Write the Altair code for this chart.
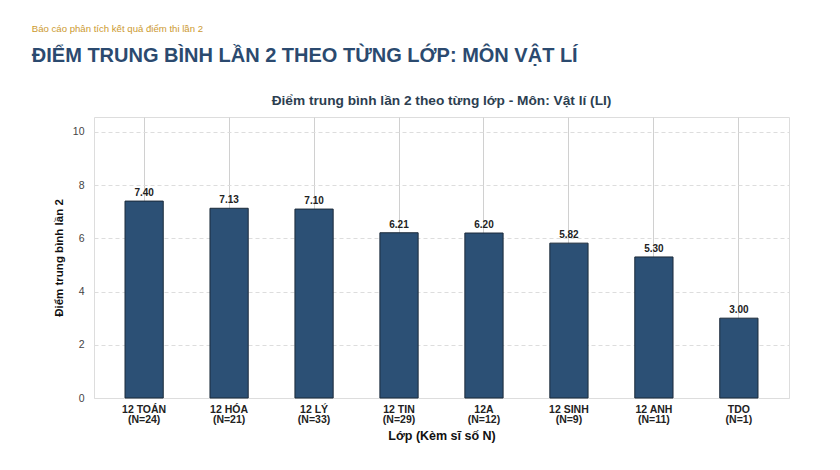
import altair as alt
import pandas as pd

classes = ["12 TOÁN", "12 HÓA", "12 LÝ", "12 TIN", "12A", "12 SINH", "12 ANH", "TDO"]
counts = [24, 21, 33, 29, 12, 9, 11, 1]
scores = [7.40, 7.13, 7.10, 6.21, 6.20, 5.82, 5.30, 3.00]
y_ticks = [0, 2, 4, 6, 8, 10]

labels = [f"{c}|(N={n})" for c, n in zip(classes, counts)]
df = pd.DataFrame({"label": labels, "score": scores})

FONT = "Liberation Sans"

x_enc = alt.X(
    "label:N",
    sort=labels,
    scale=alt.Scale(paddingInner=0.55, paddingOuter=0.365),
    axis=alt.Axis(
        title="Lớp (Kèm sĩ số N)",
        labelExpr="split(datum.value, '|')",
        labelAngle=0,
        labelFont=FONT,
        labelFontSize=10.5,
        labelFontWeight="bold",
        labelColor="#222222",
        labelLineHeight=10.5,
        labelPadding=6,
        ticks=False,
        domain=False,
        grid=True,
        gridColor="#d0d0d0",
        gridWidth=1,
        bandPosition=0.5,
        titleFont=FONT,
        titleFontSize=12.5,
        titleFontWeight="bold",
        titleColor="#111111",
        titlePadding=4,
    ),
)

y_enc = alt.Y(
    "score:Q",
    scale=alt.Scale(domain=[0, 10.56], nice=False),
    axis=alt.Axis(
        title="Điểm trung bình lần 2",
        values=y_ticks,
        labelFont=FONT,
        labelFontSize=10.5,
        labelColor="#444444",
        labelPadding=10,
        ticks=False,
        domain=False,
        grid=True,
        gridColor="#dddddd",
        gridDash=[4, 3],
        gridWidth=1,
        titleFont=FONT,
        titleFontSize=11.5,
        titleFontWeight="bold",
        titleColor="#111111",
        titlePadding=8,
    ),
)

bars = alt.Chart(df).mark_bar(
    color="#2c5075", stroke="#1b2a3a", strokeWidth=1
).encode(x=x_enc, y=y_enc)

texts = alt.Chart(df).mark_text(
    dy=-3, baseline="bottom", font=FONT, fontSize=10, fontWeight="bold", color="#222222"
).encode(
    x=alt.X("label:N", sort=labels),
    y=alt.Y("score:Q"),
    text=alt.Text("score:Q", format=".2f"),
)

inner = alt.layer(bars, texts).properties(
    width=695,
    height=281,
    title=alt.TitleParams(
        text="Điểm trung bình lần 2 theo từng lớp - Môn: Vật lí (LI)",
        font=FONT,
        fontSize=13.7,
        fontWeight="bold",
        color="#2c3e50",
        anchor="middle",
        offset=9,
    ),
)

chart = alt.vconcat(inner).properties(
    title=alt.TitleParams(
        text="Báo cáo phân tích kết quả điểm thi lần 2",
        subtitle="ĐIỂM TRUNG BÌNH LẦN 2 THEO TỪNG LỚP: MÔN VẬT LÍ",
        font=FONT,
        fontSize=9.6,
        fontWeight="normal",
        color="#cc9a30",
        subtitleFont=FONT,
        subtitleFontSize=20.0,
        subtitleFontWeight="bold",
        subtitleColor="#2b4a6f",
        subtitlePadding=12,
        anchor="start",
        offset=28,
        dx=-21,
    ),
    padding={"left": 23, "top": 16, "right": 10, "bottom": 5},
).configure_view(stroke="#dddddd", strokeWidth=1).configure(background="white")

chart.save("out.html", embed_options={"renderer": "svg", "actions": False})
